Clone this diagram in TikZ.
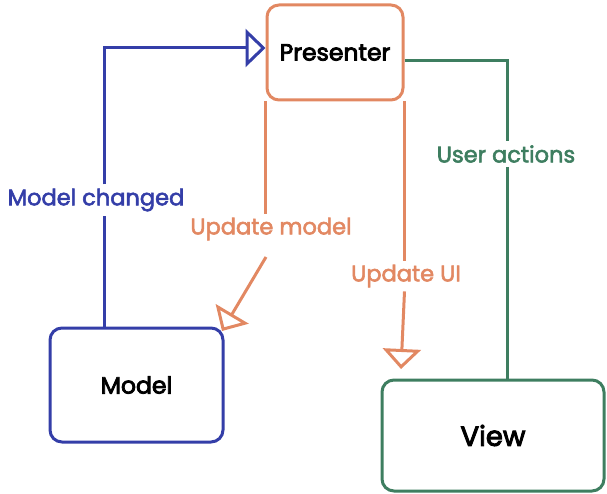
\documentclass[tikz,border=0pt]{standalone}
\usepackage{fontspec}
\setmainfont{Poppins}[RawFeature={embolden=2.5}]
\newfontfamily\pmed{Poppins}[RawFeature={embolden=3.5}]
\usetikzlibrary{arrows.meta,calc}
\definecolor{mblue}{RGB}{52,62,168}
\definecolor{morange}{RGB}{226,136,98}
\definecolor{mgreen}{RGB}{62,126,96}
\tikzset{
  box/.style={draw, rounded corners=12pt, line width=3pt, fill=white, text=black, font=\pmed\fontsize{23.5}{26}\selectfont},
  lbl/.style={inner sep=4pt, font=\fontsize{22.5}{25}\selectfont},
  ln/.style={line width=3pt},
  tri/.style={-{Triangle[open, length=20pt, width=38pt]}},
}
\begin{document}
\begin{tikzpicture}[x=1pt,y=-1pt]
\useasboundingbox (0,0) rectangle (607,494);
% boxes
\node[box, draw=morange, minimum width=136pt, minimum height=95pt] (P) at (335,52.5) {Presenter};
\node[box, draw=mblue, minimum width=173pt, minimum height=114pt] (M) at (136.5,385) {Model};
\node[box, draw=mgreen, minimum width=222pt, minimum height=111pt, font=\pmed\fontsize{27.5}{30}\selectfont] (V) at (493,435.5) {View};
% labels
\node[lbl, text=mblue] (MC) at (96,200) {Model changed};
\node[lbl, text=morange] (UM) at (271,229) {Update model};
\node[lbl, text=morange] (UI) at (406,276) {Update UI};
\node[lbl, text=mgreen] (UA) at (506,154) {User actions};
% blue connector
\coordinate (bx) at (104,48);
\draw[ln, mblue] (bx |- M.north) -- (bx |- MC.south);
\draw[ln, mblue, tri] (bx |- MC.north) -- (bx) -- (P.west |- bx);
% orange connectors
\coordinate (ums) at (266,257);
\coordinate (umt) at (222,331);
\draw[ln, morange] (P.south west) -- (P.south west |- UM.north);
\draw[ln, morange, tri] (ums) -- (umt);
\coordinate (uit) at (401,369);
\draw[ln, morange] (P.south east) -- (P.south east |- UI.north);
\draw[ln, morange, tri] (P.south east |- UI.south) -- (uit);
% green connector
\coordinate (gc) at (507,61);
\draw[ln, mgreen] (P.east |- gc) -- (gc) -- (gc |- UA.north);
\draw[ln, mgreen] (gc |- UA.south) -- (gc |- V.north);
\end{tikzpicture}
\end{document}
